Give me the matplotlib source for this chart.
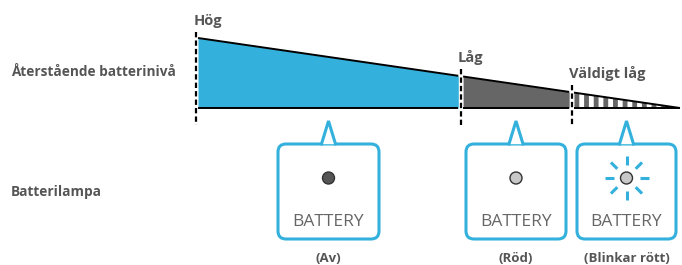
import matplotlib
matplotlib.use("Agg")
import matplotlib.pyplot as plt
from matplotlib.patches import FancyBboxPatch, Polygon, Circle
import numpy as np

# ---- data ----
segment_names = ["Hög", "Låg", "Väldigt låg"]
segment_start = [0, 55, 78]        # time (% of discharge)
segment_end = [54, 77, 100]
level_start = [100, 45, 22]        # remaining level (%)
level_end = [46, 23, 0]
lamp_states = ["(Av)", "(Röd)", "(Blinkar rött)"]
lamp_text = "BATTERY"
row_labels = ["Återstående batterinivå", "Batterilampa"]

BLUE = "#33b1dc"
DARK = "#666666"
TXT = "#555555"
FONT = "Open Sans"

W, H = 682, 265
fig = plt.figure(figsize=(W / 100, H / 100), dpi=100)

# pixel overlay axes
ax = fig.add_axes([0, 0, 1, 1])
ax.set_xlim(0, W)
ax.set_ylim(H, 0)
ax.axis("off")

# chart axes (time vs level)
cx0, cx1, cy_top, cy_base = 198, 680, 38, 108
ch = fig.add_axes([cx0 / W, (H - cy_base) / H, (cx1 - cx0) / W, (cy_base - cy_top) / H])
ch.set_xlim(0, 100)
ch.set_ylim(0, 100)
ch.axis("off")
ch.patch.set_alpha(0)

for i in range(3):
    xs = [segment_start[i], segment_end[i]]
    ys = [level_start[i], level_end[i]]
    if i == 0:
        ch.fill_between(xs, 0, ys, color=BLUE, lw=0, clip_on=False)
    elif i == 1:
        ch.fill_between(xs, 0, ys, color=DARK, lw=0, clip_on=False)
    else:
        poly = Polygon([(xs[0], 0), (xs[0], ys[0]), (xs[1], ys[1]), (xs[1], 0)],
                       closed=True, facecolor="white", edgecolor="none", clip_on=False)
        ch.add_patch(poly)
        n = 11
        edges = np.linspace(xs[0], xs[1], n + 1)
        for k in range(n):
            a = edges[k]
            b = a + (edges[1] - edges[0]) * 0.5
            ch.fill_between([a, b], 0, [ys[0] + (ys[1] - ys[0]) * (a - xs[0]) / (xs[1] - xs[0]),
                                        ys[0] + (ys[1] - ys[0]) * (b - xs[0]) / (xs[1] - xs[0])],
                            color=DARK, lw=0, clip_on=False)
    ch.plot(xs, ys, color="black", lw=1.4, clip_on=False, solid_capstyle="butt")
    ch.plot(xs, [0, 0], color="black", lw=1.4, clip_on=False, solid_capstyle="butt")

# dashed dividers
div_x = [-0.4, (segment_end[0] + segment_start[1]) / 2, (segment_end[1] + segment_start[2]) / 2]
div_top = [level_start[0] + 9, level_start[1] + 11, level_start[2] + 11]
for x, t in zip(div_x, div_top):
    ch.plot([x, x], [t, -24], color="black", lw=1.6, linestyle=(0, (2.4, 1.4)), clip_on=False)

# segment labels
for i, name in enumerate(segment_names):
    ch.text(div_x[i] - 0.6, div_top[i] + 6, name, fontsize=10.5, fontweight="bold",
            color=TXT, family=FONT, ha="left", va="bottom", clip_on=False)

# row labels
ax.text(11, 72, row_labels[0], fontsize=9.8, fontweight="bold", color=TXT, family=FONT,
        ha="left", va="center")
ax.text(11, 192, row_labels[1], fontsize=9.8, fontweight="bold", color=TXT, family=FONT,
        ha="left", va="center")

# callout boxes
boxes = [(278, 379), (466, 566), (577, 676)]
btop, bbot = 144, 239
tip_y = 121
for i, (l, r) in enumerate(boxes):
    cxm = (l + r) / 2
    fb = FancyBboxPatch((l, btop), r - l, bbot - btop,
                        boxstyle="round,pad=0,rounding_size=8",
                        facecolor="white", edgecolor=BLUE, lw=2.2)
    ax.add_patch(fb)
    # notch
    ax.add_patch(Polygon([(cxm - 6.5, btop + 0.2), (cxm, tip_y), (cxm + 6.5, btop + 0.2)],
                         closed=True, facecolor="white", edgecolor="none", zorder=3))
    ax.plot([cxm - 7, cxm, cxm + 7], [btop, tip_y, btop], color=BLUE, lw=2.2,
            solid_joinstyle="miter", zorder=4)
    # lamp
    fc = "#555555" if i == 0 else "#c8c8c8"
    ax.add_patch(Circle((cxm, 178), 6, facecolor=fc, edgecolor="#333333", lw=1.0, zorder=5))
    if i == 2:
        for ang in np.arange(0, 360, 45):
            a = np.deg2rad(ang)
            ax.plot([cxm + 13 * np.cos(a), cxm + 22 * np.cos(a)],
                    [178 + 13 * np.sin(a), 178 + 22 * np.sin(a)],
                    color=BLUE, lw=2.2, solid_capstyle="butt", zorder=5)
    ax.text(cxm, 222, lamp_text, fontsize=12.5, color="#666666", family=FONT,
            ha="center", va="center", zorder=5)
    ax.text(cxm, 258, lamp_states[i], fontsize=9.5, fontweight="bold", color=TXT,
            family=FONT, ha="center", va="center")

fig.savefig("out.png", dpi=100)
